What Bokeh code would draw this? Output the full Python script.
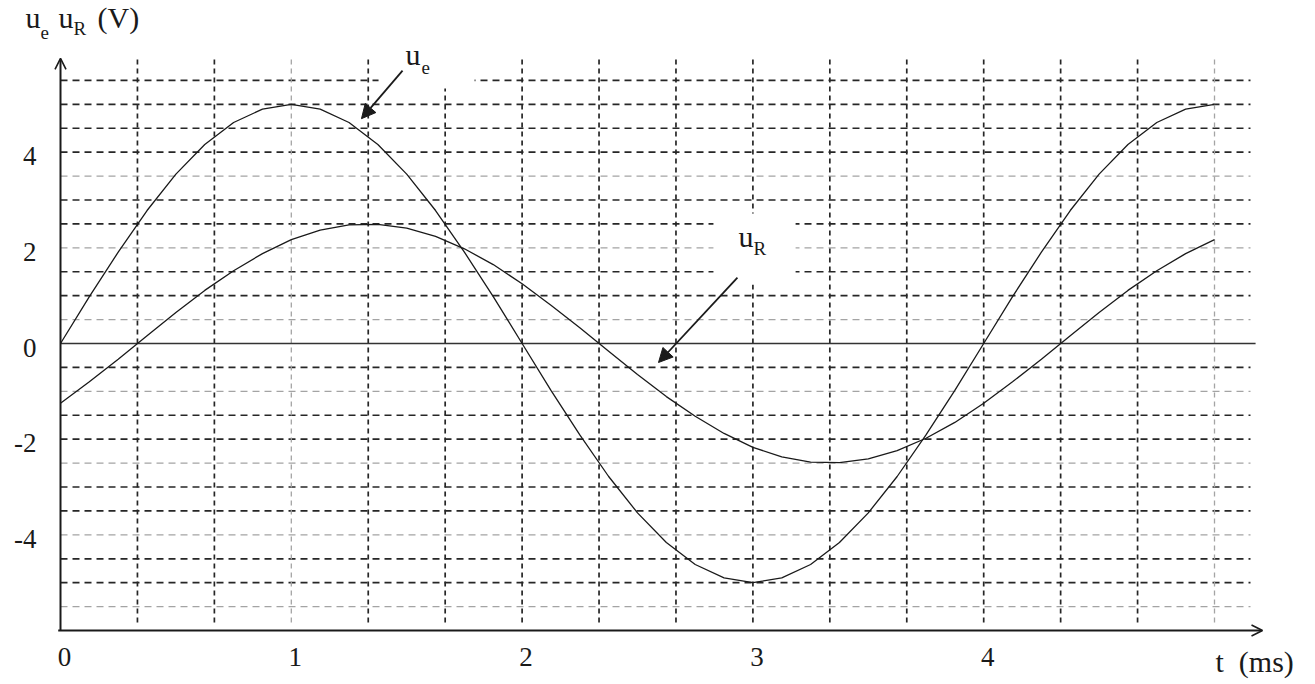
from bokeh.plotting import figure
from bokeh.models import Range1d, Label, Arrow, NormalHead, OpenHead, BoxAnnotation
from bokeh.core.properties import value
from bokeh.embed import file_html
from bokeh.resources import INLINE

# ---- data (t in ms, voltages in V) ----
t_ms = [0.0, 0.125, 0.25, 0.375, 0.5, 0.625, 0.75, 0.875, 1.0, 1.125, 1.25, 1.375, 1.5, 1.625,
        1.75, 1.875, 2.0, 2.125, 2.25, 2.375, 2.5, 2.625, 2.75, 2.875, 3.0, 3.125, 3.25, 3.375,
        3.5, 3.625, 3.75, 3.875, 4.0, 4.125, 4.25, 4.375, 4.5, 4.625, 4.75, 4.875, 5.0]
u_e = [0.00, 0.98, 1.91, 2.78, 3.54, 4.16, 4.62, 4.90, 5.00, 4.90, 4.62, 4.16, 3.54, 2.78,
       1.91, 0.98, 0.00, -0.98, -1.91, -2.78, -3.54, -4.16, -4.62, -4.90, -5.00, -4.90, -4.62, -4.16,
       -3.54, -2.78, -1.91, -0.98, 0.00, 0.98, 1.91, 2.78, 3.54, 4.16, 4.62, 4.90, 5.00]
u_R = [-1.25, -0.80, -0.33, 0.16, 0.65, 1.11, 1.52, 1.88, 2.17, 2.37, 2.48, 2.49, 2.41, 2.24,
       1.98, 1.65, 1.25, 0.80, 0.33, -0.16, -0.65, -1.11, -1.52, -1.88, -2.17, -2.37, -2.48, -2.49,
       -2.41, -2.24, -1.98, -1.65, -1.25, -0.80, -0.33, 0.16, 0.65, 1.11, 1.52, 1.88, 2.17]

x_ticks = [0, 1, 2, 3, 4]
x_tick_labels = ["0", "1", "2", "3", "4"]
y_ticks = [-4, -2, 0, 2, 4]
y_tick_labels = ["-4", "-2", "0", "2", "4"]

# graph-paper lines
h_grid_dark = [5.5, 5.0, 4.5, 4.0, 3.0, 2.5, 1.5, 1.0, -0.5, -1.5, -2.0, -3.0, -3.5, -4.5, -5.0]
h_grid_light = [3.5, 2.0, 0.5, -1.0, -2.5, -4.0, -5.5]
v_grid_dark = [1/3, 2/3, 4/3, 5/3, 2.0, 7/3, 8/3, 3.0, 10/3, 11/3, 4.0, 13/3, 14/3]
v_grid_light = [1.0, 5.0]

INK = "#1a1a1a"
FONT = "Liberation Serif"

p = figure(width=1315, height=684, output_backend="svg", toolbar_location=None,
           x_range=Range1d(-0.260, 5.4376), y_range=Range1d(-7.128, 7.170),
           x_axis_location=None, y_axis_location=None,
           min_border_left=0, min_border_right=0, min_border_top=0, min_border_bottom=0)
p.grid.visible = False
p.outline_line_color = None
p.background_fill_color = "white"
p.border_fill_color = "white"

# grid segments
h_end = 5.156
v_lo, v_hi = -5.83, 6.02
p.segment(x0=[0] * len(h_grid_dark), x1=[h_end] * len(h_grid_dark), y0=h_grid_dark, y1=h_grid_dark,
          line_color="#262626", line_width=1.7, line_dash="7 5")
p.segment(x0=[0] * len(h_grid_light), x1=[h_end] * len(h_grid_light), y0=h_grid_light, y1=h_grid_light,
          line_color="#a4a4a4", line_width=1.3, line_dash="7 5")
p.segment(x0=v_grid_dark, x1=v_grid_dark, y0=[v_lo] * len(v_grid_dark), y1=[v_hi] * len(v_grid_dark),
          line_color="#262626", line_width=1.7, line_dash="5 4")
p.segment(x0=v_grid_light, x1=v_grid_light, y0=[v_lo] * len(v_grid_light), y1=[v_hi] * len(v_grid_light),
          line_color="#a4a4a4", line_width=1.3, line_dash="5 4")

# zero line
p.segment(x0=[0], x1=[5.178], y0=[0], y1=[0], line_color="#333333", line_width=1.7)

# curves
p.line(t_ms, u_e, line_color=INK, line_width=1.3)
p.line(t_ms, u_R, line_color=INK, line_width=1.3)

# tick labels, placed at the tick values
p.text(x=x_ticks, y=[-6] * len(x_ticks), text=x_tick_labels, text_font=value(FONT),
       text_font_size=value("27px"), text_color=INK, text_align="center",
       text_baseline="top", y_offset=17, x_offset=4)
p.text(x=[0] * len(y_ticks), y=y_ticks, text=y_tick_labels, text_font=value(FONT),
       text_font_size=value("27px"), text_color=INK, text_align="right",
       text_baseline="middle", x_offset=-24, y_offset=4)

# white patches behind the labels
p.add_layout(BoxAnnotation(left=1.378, right=1.794, bottom=5.33, top=6.4,
                           fill_color="white", fill_alpha=1, line_color=None, level="overlay"))
p.add_layout(BoxAnnotation(left=2.829, right=3.185, bottom=1.233, top=2.72,
                           fill_color="white", fill_alpha=1, line_color=None, level="overlay"))

# axes with arrows
p.add_layout(Arrow(end=OpenHead(size=11, line_width=1.6, line_color=INK),
                   x_start=-0.01, y_start=-6, x_end=5.208, y_end=-6,
                   line_color=INK, line_width=2, level="overlay"))
p.add_layout(Arrow(end=OpenHead(size=11, line_width=1.6, line_color=INK),
                   x_start=0, y_start=-6, x_end=0, y_end=5.96,
                   line_color=INK, line_width=2, level="overlay"))

# pointer arrows
p.add_layout(Arrow(end=NormalHead(size=14, fill_color=INK, line_color=INK),
                   x_start=1.482, y_start=5.705, x_end=1.304, y_end=4.70,
                   line_color=INK, line_width=1.8, level="overlay"))
p.add_layout(Arrow(end=NormalHead(size=14, fill_color=INK, line_color=INK),
                   x_start=2.933, y_start=1.379, x_end=2.591, y_end=-0.397,
                   line_color=INK, line_width=1.8, level="overlay"))


def txt(x, y, s, size):
    p.add_layout(Label(x=x, y=y, text=s, text_font=FONT, text_font_size=size,
                       text_color=INK, level="overlay"))


# axis titles
txt(-0.1516, 6.48, "u", "30px")
txt(-0.0867, 6.375, "e", "19px")
txt(-0.0087, 6.48, "u", "30px")
txt(0.0563, 6.375, "R", "19px")
txt(0.1603, 6.48, "(V)", "30px")
txt(5.0043, -6.99, "t\u00a0\u00a0(ms)", "30px")

# curve labels
txt(1.4948, 5.705, "u", "30px")
txt(1.5641, 5.64, "e", "19px")
txt(2.9376, 1.90, "u", "30px")
txt(3.0026, 1.776, "R", "19px")

open("out.html", "w").write(file_html(p, INLINE))
